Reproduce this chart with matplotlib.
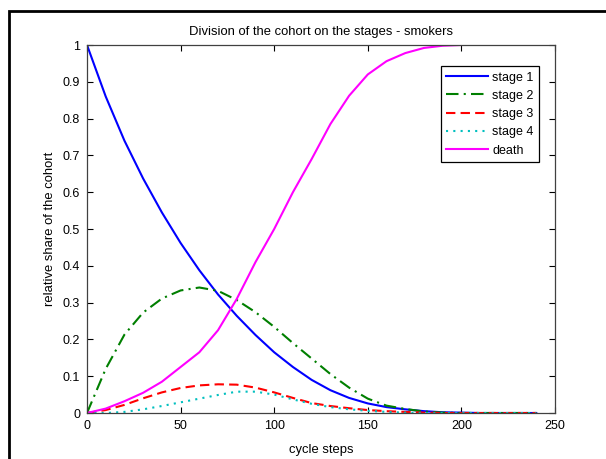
import matplotlib
matplotlib.use("Agg")
import matplotlib.pyplot as plt
from matplotlib.patches import Rectangle

plt.rcParams['font.family'] = ['Liberation Sans', 'DejaVu Sans']

# cycle steps (every 10 steps)
steps = [0, 10, 20, 30, 40, 50, 60, 70, 80, 90, 100, 110, 120,
         130, 140, 150, 160, 170, 180, 190, 200, 210, 220, 230, 240]

stage1 = [1.0, 0.86, 0.74, 0.637, 0.545, 0.462, 0.388, 0.322, 0.264, 0.212, 0.165, 0.125, 0.090,
          0.062, 0.041, 0.026, 0.016, 0.010, 0.005, 0.002, 0.001, 0.0, 0.0, 0.0, 0.0]
stage2 = [0.0, 0.12, 0.213, 0.273, 0.311, 0.333, 0.341, 0.332, 0.307, 0.274, 0.234, 0.190, 0.148,
          0.106, 0.069, 0.039, 0.020, 0.011, 0.004, 0.001, 0.0, 0.0, 0.0, 0.0, 0.0]
stage3 = [0.0, 0.008, 0.022, 0.040, 0.056, 0.068, 0.075, 0.078, 0.077, 0.069, 0.056, 0.041, 0.027,
          0.019, 0.013, 0.008, 0.005, 0.003, 0.001, 0.0, 0.0, 0.0, 0.0, 0.0, 0.0]
stage4 = [0.0, 0.0, 0.003, 0.010, 0.019, 0.029, 0.039, 0.049, 0.058, 0.058, 0.050, 0.037, 0.025,
          0.016, 0.010, 0.006, 0.003, 0.001, 0.0, 0.0, 0.0, 0.0, 0.0, 0.0, 0.0]

# death share reaches 1 at ~200 and then runs along the top border
death_steps = [0, 10, 20, 30, 40, 50, 60, 70, 80, 90, 100, 110, 120,
               130, 140, 150, 160, 170, 180, 190, 200]
death = [0.0, 0.012, 0.032, 0.055, 0.085, 0.125, 0.165, 0.225, 0.31, 0.41, 0.5, 0.6, 0.69,
         0.785, 0.862, 0.92, 0.956, 0.978, 0.992, 0.998, 1.0]

fig = plt.figure(figsize=(6.06, 4.59), dpi=100)
ax = fig.add_axes([87 / 606, 46 / 459, 468 / 606, 368 / 459])

ax.plot(steps, stage1, color='#0000ff', lw=1.5, label='stage 1')
ax.plot(steps, stage2, color='#007f00', lw=1.5, ls=(0, (6, 2.5, 1, 2.5)), label='stage 2')
ax.plot(steps, stage3, color='#ff0000', lw=1.5, ls=(0, (4.5, 2.5)), label='stage 3')
ax.plot(steps, stage4, color='#00bfbf', lw=1.5, ls=(0, (1, 2.5)), label='stage 4')
ax.plot(death_steps, death, color='#ff00ff', lw=1.5, label='death')

ax.set_xlim(0, 250)
ax.set_ylim(0, 1)
ax.set_xticks([0, 50, 100, 150, 200, 250])
ax.set_yticks([0, 0.1, 0.2, 0.3, 0.4, 0.5, 0.6, 0.7, 0.8, 0.9, 1])
ax.set_yticklabels(['0', '0.1', '0.2', '0.3', '0.4', '0.5', '0.6', '0.7', '0.8', '0.9', '1'])
ax.tick_params(direction='in', top=True, right=True, length=4, width=0.8, labelsize=9, pad=5)
for s in ax.spines.values():
    s.set_color('#404040')
    s.set_linewidth(0.9)

ax.set_title('Division of the cohort on the stages - smokers', fontsize=9.4, pad=7)
ax.set_xlabel('cycle steps', fontsize=9.4, labelpad=9)
ax.set_ylabel('relative share of the cohort', fontsize=9.4, labelpad=5)

leg = ax.legend(loc='upper right', bbox_to_anchor=(0.966, 0.943), fontsize=9,
                handlelength=3.3, fancybox=False, framealpha=1, borderaxespad=0,
                labelspacing=0.5, handletextpad=0.35, borderpad=0.45)
leg.get_frame().set_edgecolor('black')
leg.get_frame().set_linewidth(0.9)

# black frame around the figure (cut off at right and bottom in the reference)
fig.patches.append(Rectangle((9 / 606, -0.1), 1.0, 1 + 0.1 - 11 / 459,
                             transform=fig.transFigure, fill=False,
                             edgecolor='black', lw=2))

fig.savefig('out.png', dpi=100)
